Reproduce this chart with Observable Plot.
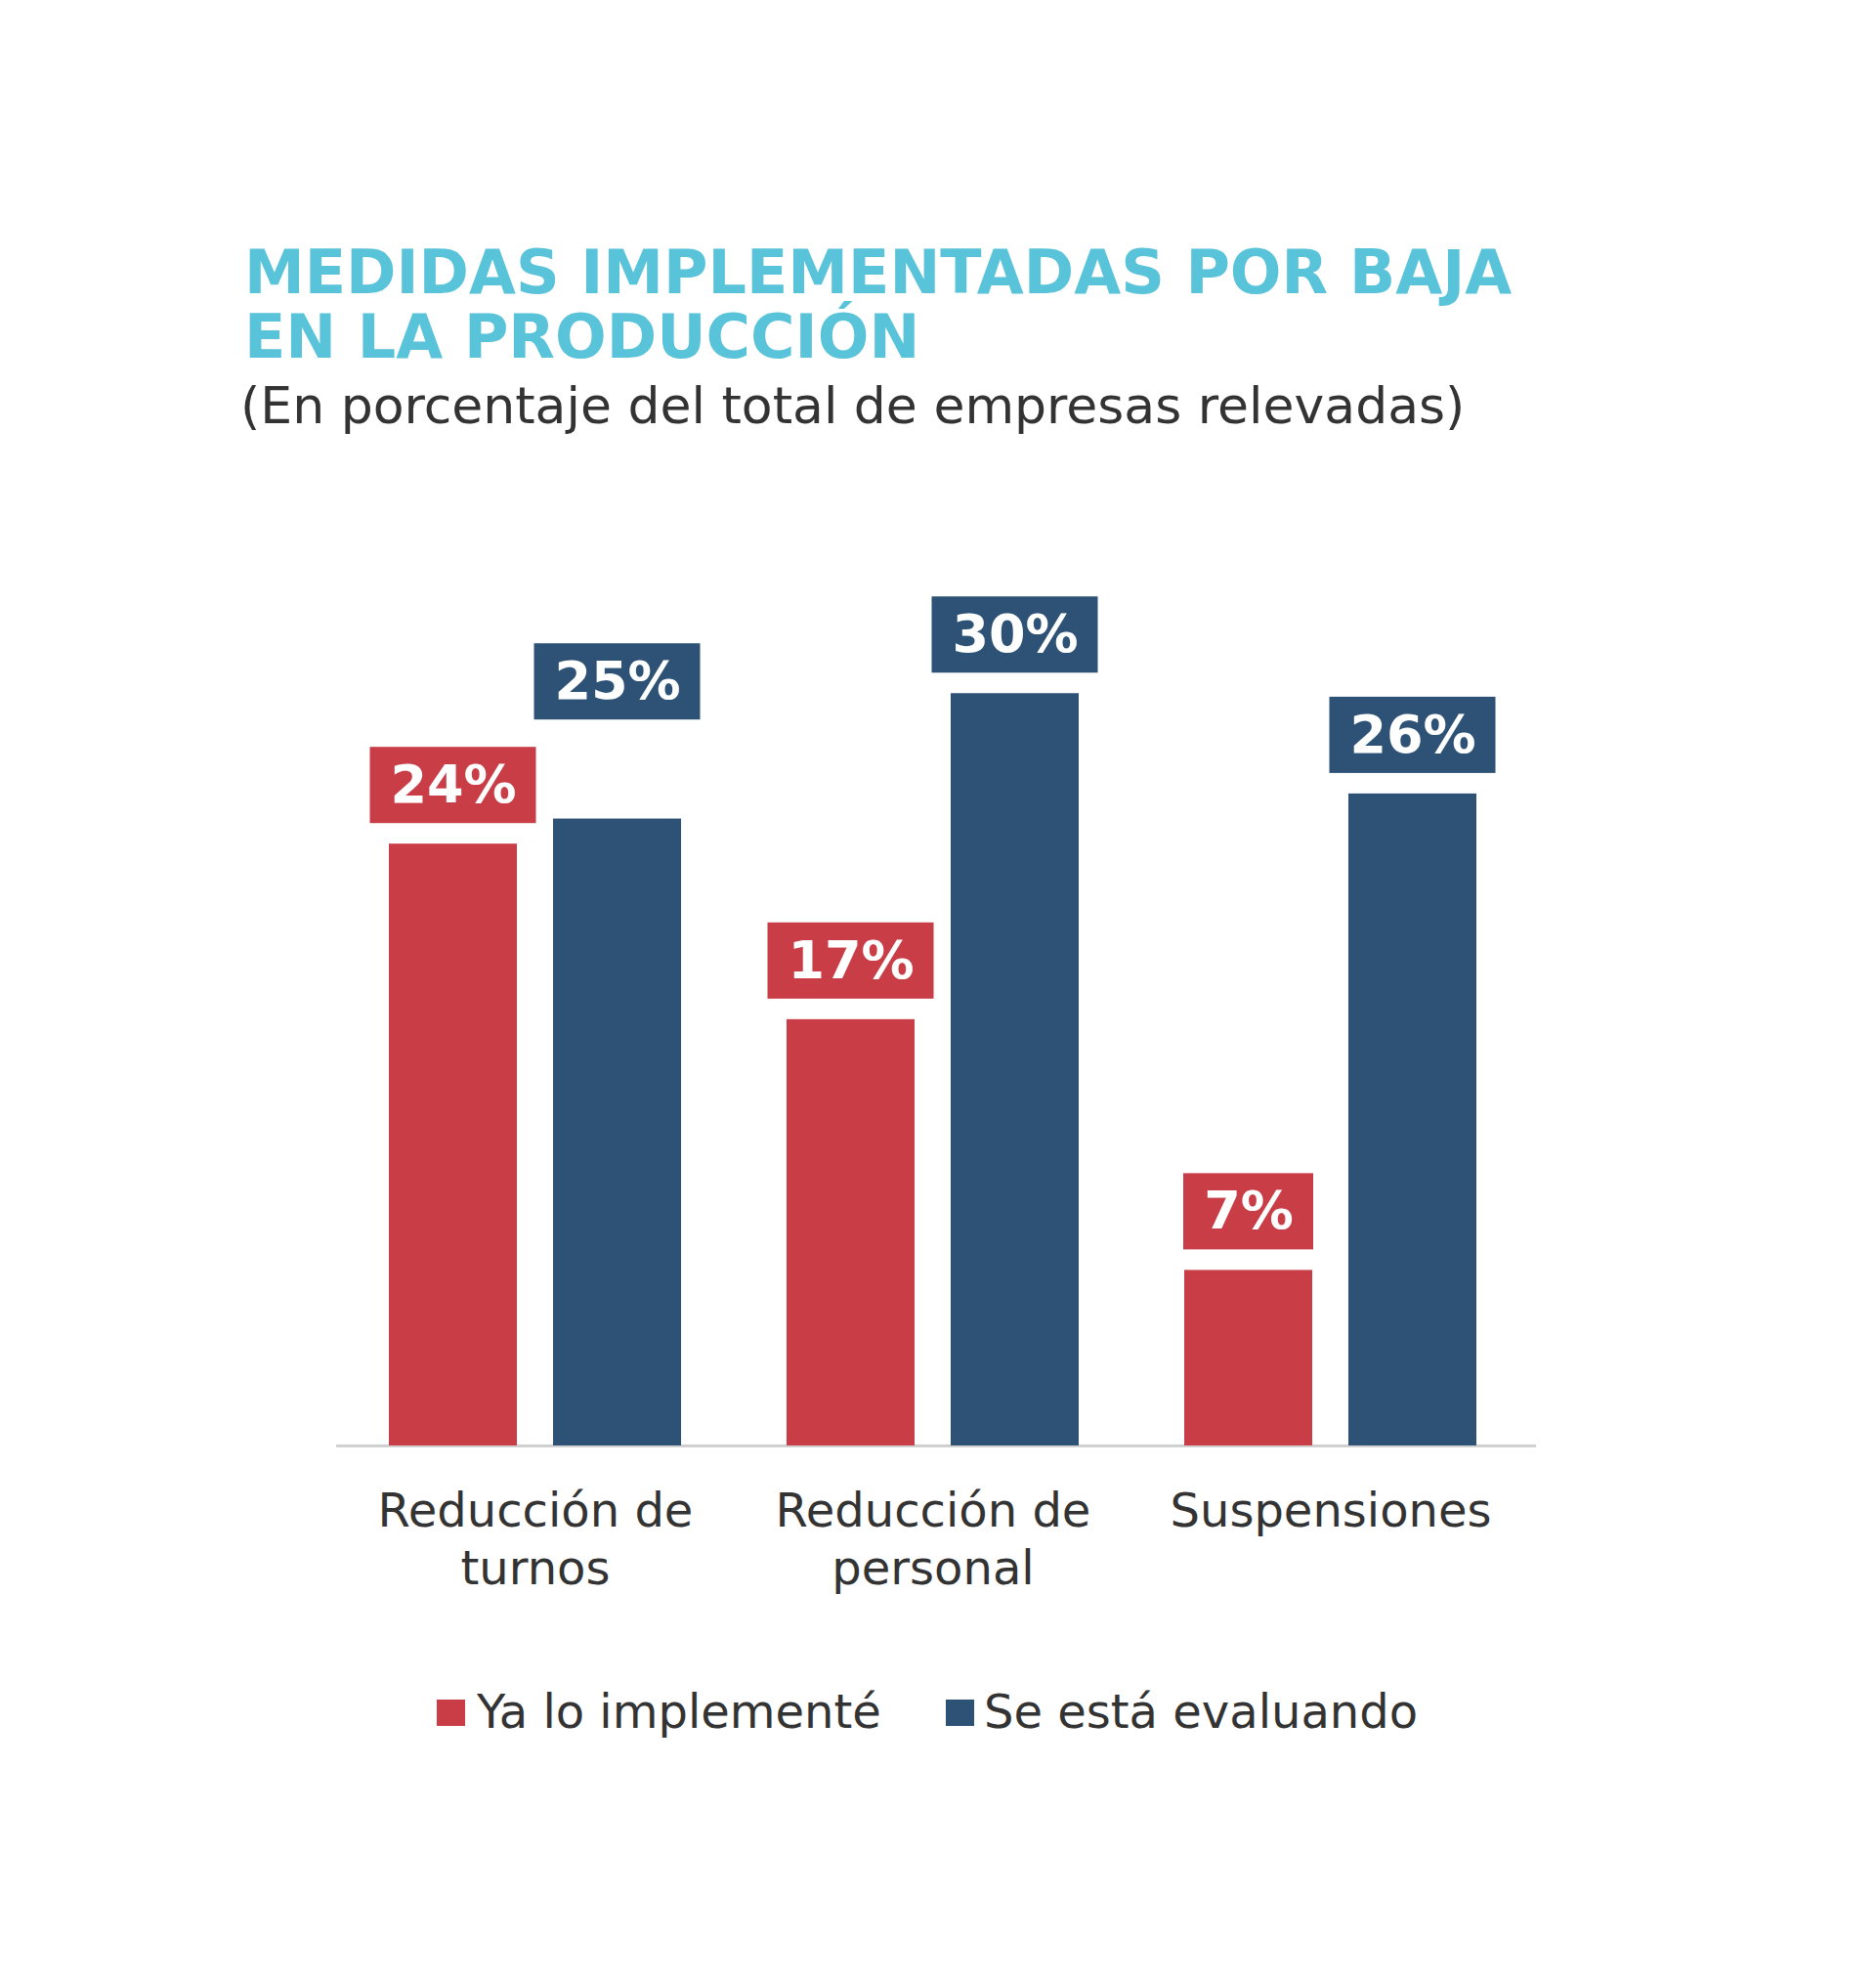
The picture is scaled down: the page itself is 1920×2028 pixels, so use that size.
<!DOCTYPE html>
<html><head><meta charset="utf-8">
<script src="https://cdn.jsdelivr.net/npm/d3@7"></script>
<script src="https://cdn.jsdelivr.net/npm/@observablehq/plot@0.6"></script>
<style>
body{margin:0;background:#fff;width:1920px;height:2028px;position:relative;font-family:"DejaVu Sans",Verdana,sans-serif;overflow:hidden;}
#title{position:absolute;left:250px;top:246px;font-size:62px;line-height:66px;font-weight:bold;color:#59C3D9;white-space:nowrap;}
#subtitle{position:absolute;left:246px;top:385px;font-size:52px;line-height:60px;color:#333;white-space:nowrap;}
#chart{position:absolute;left:0;top:470px;}
.lg{position:absolute;font-size:48px;line-height:56px;color:#333;white-space:nowrap;}
.sw{position:absolute;width:29px;height:27px;}
</style>
</head><body>
<div id="title">MEDIDAS IMPLEMENTADAS POR BAJA<br>EN LA PRODUCCIÓN</div>
<div id="subtitle">(En porcentaje del total de empresas relevadas)</div>
<div id="chart"></div>
<div class="sw" style="left:447px;top:1739px;background:#C93D47"></div>
<div class="lg" style="left:488px;top:1723px">Ya lo implementé</div>
<div class="sw" style="left:968px;top:1739px;background:#2D5276"></div>
<div class="lg" style="left:1007px;top:1723px">Se está evaluando</div>
<script>
const categories = ["Reducción de turnos", "Reducción de personal", "Suspensiones"];
const categoryLabels = ["Reducción de\nturnos", "Reducción de\npersonal", "Suspensiones"];
const series = ["Ya lo implementé", "Se está evaluando"];
const implemented = [24, 17, 7];
const evaluating = [25, 30, 26];
const colors = ["#C93D47", "#2D5276"];

const W = 1920, H = 1200, mT = 34, mB = 191, mL = 344, mR = 355;
const yMax = 38;
const k = (H - mT - mB) / yMax; // px per unit
const gap = 21, boxH = 78, sep = 28;

const data = [];
categories.forEach((c, i) => {
  data.push({category: c, series: series[0], value: implemented[i]});
  data.push({category: c, series: series[1], value: evaluating[i]});
});
// label placement: avoid a label box sitting beside its neighbour's box
categories.forEach((c, i) => {
  const a = data[2 * i], b = data[2 * i + 1];
  a.base = a.value;
  b.base = b.value;
  const minB = a.value + (boxH + sep) / k;
  if (b.value >= a.value && b.value < minB) b.base = minB;
});
const labelMap = new Map(categories.map((c, i) => [c, categoryLabels[i]]));
const two = data.filter(d => String(d.value).length > 1);
const one = data.filter(d => String(d.value).length === 1);

const plot = Plot.plot({
  width: W, height: H,
  marginTop: mT, marginBottom: mB, marginLeft: mL, marginRight: mR,
  style: {fontFamily: '"DejaVu Sans", Verdana, sans-serif', color: "#333", background: "transparent"},
  fx: {domain: categories, padding: 0, label: null},
  x: {domain: series, axis: null, paddingInner: 0.2202, paddingOuter: 0.3214},
  y: {domain: [0, yMax], axis: null},
  color: {domain: series, range: colors},
  marks: [
    Plot.ruleY([0], {stroke: "#D0D0D0", strokeWidth: 3, insetRight: -7}),
    Plot.barY(data, {fx: "category", x: "series", y: "value", fill: "series"}),
    Plot.barY(two, {fx: "category", x: "series", y1: "base", y2: "base", fill: "series",
      insetTop: -(gap + boxH), insetBottom: gap, insetLeft: -19.5, insetRight: -19.5}),
    Plot.barY(one, {fx: "category", x: "series", y1: "base", y2: "base", fill: "series",
      insetTop: -(gap + boxH), insetBottom: gap, insetLeft: -1, insetRight: -1}),
    Plot.text(data, {fx: "category", x: "series", y: "base", text: d => d.value + "%",
      dy: -(gap + boxH / 2), fill: "white", fontWeight: "bold", fontSize: 54, lineAnchor: "middle"}),
    Plot.axisFx({tickSize: 0, tickPadding: 41, tickFormat: d => labelMap.get(d), fontSize: 48,
      lineHeight: 1.22, label: null, anchor: "bottom"})
  ]
});
document.getElementById("chart").appendChild(plot);
</script>
</body></html>
